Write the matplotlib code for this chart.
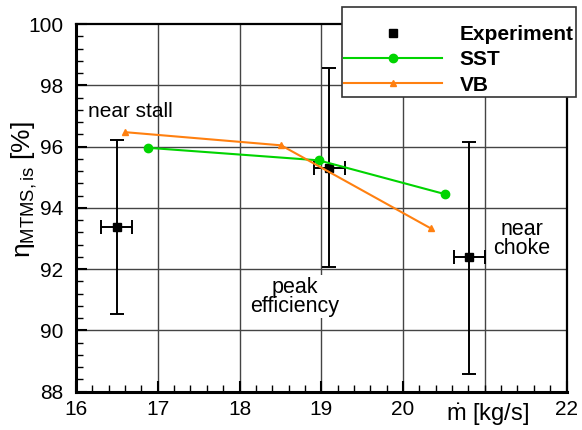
import matplotlib
matplotlib.use("Agg")
import matplotlib.pyplot as plt
from matplotlib.ticker import MultipleLocator, FixedLocator

plt.rcParams['font.family'] = ['Liberation Sans', 'DejaVu Sans']
plt.rcParams['mathtext.fontset'] = 'custom'
plt.rcParams['mathtext.rm'] = 'Liberation Sans'
plt.rcParams['mathtext.it'] = 'Liberation Sans'

# Data
exp_x = [16.50, 19.10, 20.81]
exp_y = [93.36, 95.29, 92.39]
exp_y_lo = [90.54, 92.06, 88.59]
exp_y_hi = [96.22, 98.55, 96.15]
exp_xerr = [0.19, 0.19, 0.19]

sst_x = [16.88, 18.97, 20.51]
sst_y = [95.96, 95.55, 94.45]

vb_x = [16.60, 18.51, 20.34]
vb_y = [96.47, 96.04, 93.33]

xtick_vals = [16, 17, 18, 19, 20, 22]
ytick_vals = [88, 90, 92, 94, 96, 98, 100]

W, H = 582, 430
fig = plt.figure(figsize=(W / 100, H / 100), dpi=100)
ax = fig.add_axes([76 / W, 1 - 391.7 / H, (566.5 - 76) / W, (391.7 - 24) / H])

ax.set_xlim(16, 22)
ax.set_ylim(88, 100)

for gx in range(17, 22):
    ax.axvline(gx, color='#444444', lw=1.0, zorder=1)
for gy in range(90, 100, 2):
    ax.axhline(gy, color='#444444', lw=1.0, zorder=1)

yerr = [[y - lo for y, lo in zip(exp_y, exp_y_lo)], [hi - y for y, hi in zip(exp_y, exp_y_hi)]]
ax.errorbar(exp_x, exp_y, yerr=yerr, xerr=exp_xerr, fmt='none', ecolor='black',
            elinewidth=1.4, capsize=5, capthick=1.4, zorder=3)
ax.plot(exp_x, exp_y, 's', color='black', ms=6.3, zorder=4, label='Experiment')
ax.plot(sst_x, sst_y, '-o', color='#00d400', lw=1.5, ms=6, zorder=5, label='SST')
ax.plot(vb_x, vb_y, '-^', color='#ff8010', lw=1.5, ms=5, zorder=5, label='VB')

ax.xaxis.set_major_locator(FixedLocator(xtick_vals))
ax.xaxis.set_minor_locator(MultipleLocator(0.2))
ax.yaxis.set_major_locator(FixedLocator(ytick_vals))
ax.yaxis.set_minor_locator(MultipleLocator(0.4))
ax.tick_params(axis='both', which='major', direction='in', length=8, width=1.5,
               labelsize=15, top=False, right=False)
ax.tick_params(axis='both', which='minor', direction='in', length=5, width=1.0,
               top=False, right=False)
ax.tick_params(axis='x', which='major', pad=6)
ax.tick_params(axis='y', which='major', pad=9)

for s in ['left', 'bottom']:
    ax.spines[s].set_linewidth(2.2)
for s in ['top', 'right']:
    ax.spines[s].set_linewidth(1.6)

ax.set_ylabel(r'$\eta_{\mathrm{MTMS,is}}$ [%]', fontsize=19)
ax.yaxis.set_label_coords(-0.076, 0.55)
ax.text(21.03, 87.25, r'$\dot{\mathrm{m}}$ [kg/s]', fontsize=17, ha='center', va='center')

ax.text(16.15, 97.13, 'near stall', fontsize=15, ha='left', va='center', zorder=6)
ax.text(18.68, 91.1, 'peak\nefficiency', fontsize=15.5, ha='center', va='center',
        linespacing=0.88, zorder=6,
        bbox=dict(facecolor='white', edgecolor='none', pad=1))
ax.text(21.45, 92.98, 'near\nchoke', fontsize=15.5, ha='center', va='center',
        linespacing=0.88, zorder=6)

leg = ax.legend(loc='upper left', bbox_to_anchor=(341.7 / W, 1 - 6.7 / H),
                bbox_transform=fig.transFigure, borderaxespad=0, frameon=True,
                fancybox=False, edgecolor='#333333', framealpha=1,
                prop={'weight': 'bold', 'size': 15}, handlelength=4.7,
                handletextpad=0.87, labelspacing=0.3, borderpad=0.1,
                title=' ', title_fontsize=7.5)
leg.get_frame().set_linewidth(1.2)
leg.set_zorder(10)

fig.savefig('out.png', dpi=100)
